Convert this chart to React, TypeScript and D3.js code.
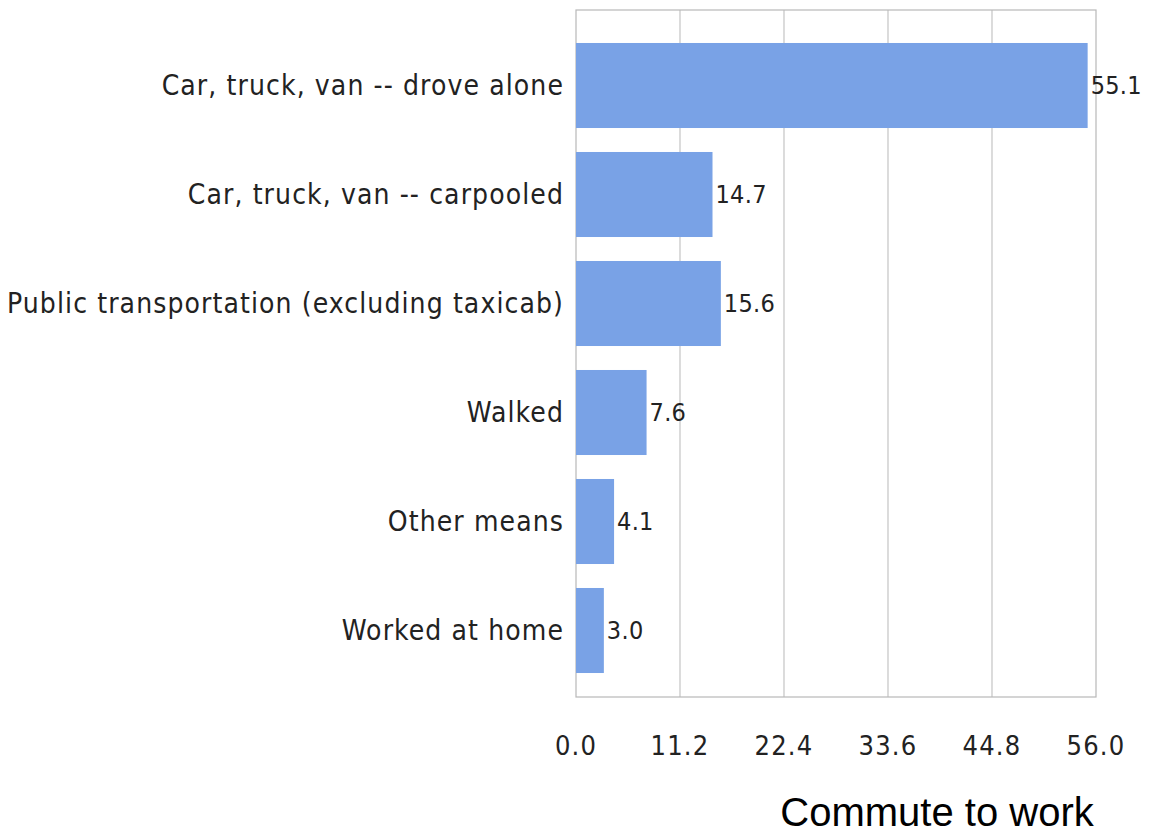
import React from "react";
import * as d3 from "d3";

const categories = [
  "Car, truck, van -- drove alone",
  "Car, truck, van -- carpooled",
  "Public transportation (excluding taxicab)",
  "Walked",
  "Other means",
  "Worked at home",
];
const values = [55.1, 14.7, 15.6, 7.6, 4.1, 3.0];
const tickValues = [0, 11.2, 22.4, 33.6, 44.8, 56.0];
const title = "Commute to work";

const W = 1151;
const H = 836;
const plot = { left: 576, right: 1096, top: 10, bottom: 697 };
const labelFont = "'DejaVu Sans Condensed', 'DejaVu Sans', sans-serif";

export default function App() {
  const x = d3.scaleLinear().domain([0, 56]).range([plot.left, plot.right]);
  const y = d3
    .scaleBand<string>()
    .domain(categories)
    .range([plot.top + 21, plot.bottom - 12])
    .paddingInner(0.22)
    .paddingOuter(0.11);

  return (
    <svg
      width={W}
      height={H}
      style={{ position: "absolute", left: 0, top: 0, background: "#fff" }}
    >
      <rect x={0} y={0} width={W} height={H} fill="#fff" />
      {tickValues.slice(1, -1).map((t) => (
        <line
          key={"g" + t}
          x1={x(t)}
          x2={x(t)}
          y1={plot.top}
          y2={plot.bottom}
          stroke="#c4c4c4"
          strokeWidth={1.2}
        />
      ))}
      <rect
        x={plot.left}
        y={plot.top}
        width={plot.right - plot.left}
        height={plot.bottom - plot.top}
        fill="none"
        stroke="#b8b8b8"
        strokeWidth={1.2}
      />
      {categories.map((c, i) => (
        <g key={c}>
          <rect
            x={x(0)}
            y={y(c)}
            width={x(values[i]) - x(0)}
            height={y.bandwidth()}
            fill="#79a2e6"
          />
          <text
            x={plot.left - 12}
            y={(y(c) as number) + y.bandwidth() / 2}
            textAnchor="end"
            dominantBaseline="central"
            fontFamily={labelFont}
            fontSize={28}
            letterSpacing={1.1}
            fill="#222"
          >
            {c}
          </text>
          <text
            x={x(values[i]) + 3}
            y={(y(c) as number) + y.bandwidth() / 2}
            textAnchor="start"
            dominantBaseline="central"
            fontFamily={labelFont}
            fontSize={25}
            letterSpacing={0.3}
            fill="#222"
          >
            {values[i].toFixed(1)}
          </text>
        </g>
      ))}
      {tickValues.map((t) => (
        <text
          key={"t" + t}
          x={x(t)}
          y={745}
          textAnchor="middle"
          dominantBaseline="central"
          fontFamily={labelFont}
          fontSize={27}
          letterSpacing={1.2}
          fill="#222"
        >
          {t.toFixed(1)}
        </text>
      ))}
      <text
        x={937}
        y={826}
        textAnchor="middle"
        fontFamily="'Liberation Sans', Arial, sans-serif"
        fontSize={40}
        fill="#000"
      >
        {title}
      </text>
    </svg>
  );
}
